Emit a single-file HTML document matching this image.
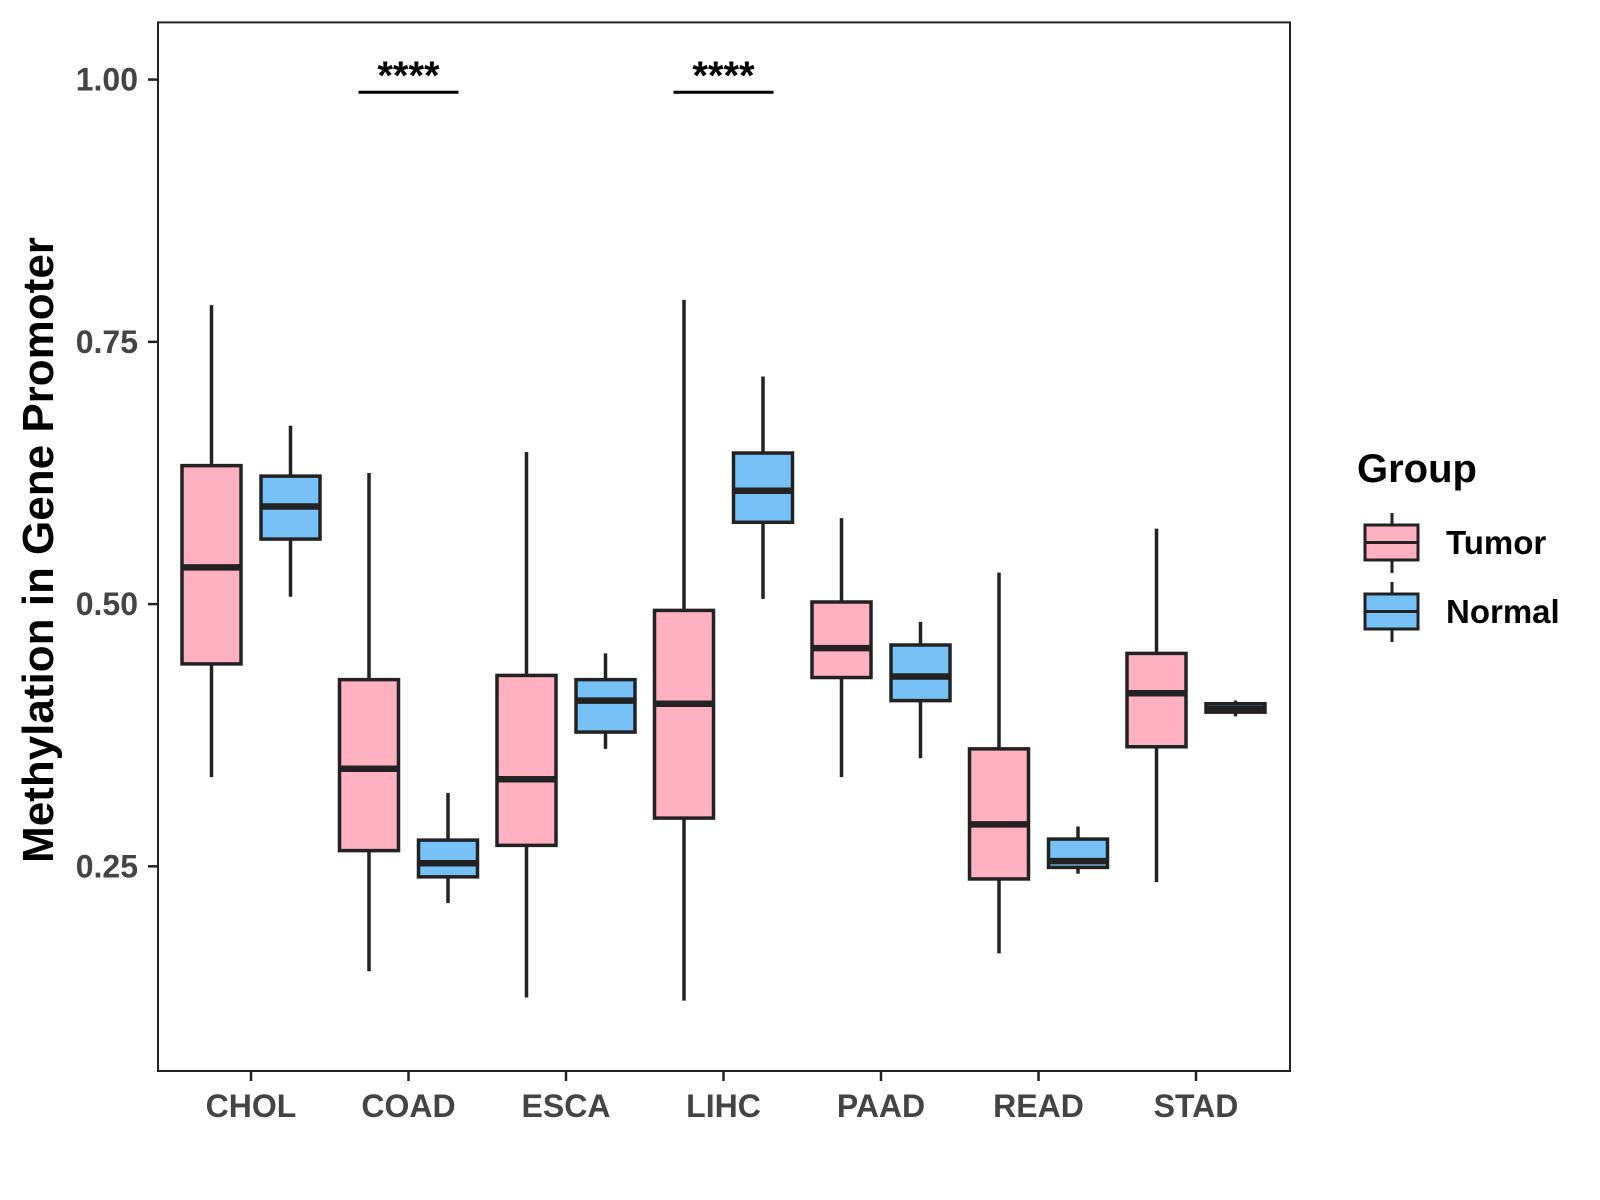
<!DOCTYPE html>
<html><head><meta charset="utf-8"><style>
html,body{margin:0;padding:0;background:#fff;}
svg{display:block;font-family:"Liberation Sans",Arial,sans-serif;font-weight:bold;}
</style></head><body>
<svg id="chart" width="1600" height="1200" viewBox="0 0 1600 1200" xmlns="http://www.w3.org/2000/svg">
<rect x="0" y="0" width="1600" height="1200" fill="#fff"/>
<g id="marks"></g>
<rect x="158" y="22.4" width="1132" height="1048.6" fill="none" stroke="#222" stroke-width="2"/>
<g id="axes"></g>
<text transform="translate(53,550) rotate(-90)" text-anchor="middle" font-size="44" fill="#000">Methylation in Gene Promoter</text>
<g>
<text x="1357" y="482" font-size="40" fill="#000">Group</text>
<g>
<line x1="1392" y1="513" x2="1392" y2="573" stroke="#222" stroke-width="3"/>
<rect x="1365" y="525" width="53" height="35" fill="#FFB0C1" stroke="#222" stroke-width="3"/>
<line x1="1365" y1="542.5" x2="1418" y2="542.5" stroke="#222" stroke-width="3"/>
<text x="1446" y="554" font-size="33" fill="#000">Tumor</text>
</g>
<g>
<line x1="1392" y1="582" x2="1392" y2="642" stroke="#222" stroke-width="3"/>
<rect x="1365" y="594" width="53" height="35" fill="#76C1F7" stroke="#222" stroke-width="3"/>
<line x1="1365" y1="611.5" x2="1418" y2="611.5" stroke="#222" stroke-width="3"/>
<text x="1446" y="623" font-size="33" fill="#000">Normal</text>
</g>
</g>
</svg>
<script>
const categories = ["CHOL","COAD","ESCA","LIHC","PAAD","READ","STAD"];
const tumorMin = [0.335,0.15,0.125,0.122,0.335,0.167,0.235];
const tumorQ1  = [0.443,0.265,0.27,0.296,0.43,0.238,0.364];
const tumorMed = [0.535,0.343,0.333,0.405,0.458,0.29,0.415];
const tumorQ3  = [0.632,0.428,0.432,0.494,0.502,0.362,0.453];
const tumorMax = [0.785,0.625,0.645,0.79,0.582,0.53,0.572];
const normalMin = [0.507,0.215,0.362,0.505,0.353,0.243,0.393];
const normalQ1  = [0.562,0.24,0.378,0.578,0.408,0.249,0.397];
const normalMed = [0.593,0.253,0.408,0.608,0.431,0.255,0.4];
const normalQ3  = [0.622,0.275,0.428,0.644,0.461,0.276,0.405];
const normalMax = [0.67,0.32,0.453,0.717,0.483,0.288,0.408];
const yTicks = [0.25,0.5,0.75,1.0];
const yTickLabels = ["0.25","0.50","0.75","1.00"];
const sigCategories = ["COAD","LIHC"];
const sigLabels = ["****","****"];
const sigLevel = 0.988;

const NS="http://www.w3.org/2000/svg";
function y(v){return 79.6 + (1 - v) * 1049;}
function x(i){return 251 + i * 157.5;}
const marks=document.getElementById('marks'), axes=document.getElementById('axes');
function el(tag,attrs,parent){const e=document.createElementNS(NS,tag);for(const k in attrs)e.setAttribute(k,attrs[k]);parent.appendChild(e);return e;}

function drawBox(cx,mn,q1,md,q3,mx,fill,name){
  const g=el('g',{},marks);
  
  
  el('line',{x1:cx,x2:cx,y1:y(mx),y2:y(mn),stroke:'#222','stroke-width':3.5},g);
  el('rect',{x:cx-29.5,y:y(q3),width:59,height:y(q1)-y(q3),fill:fill,stroke:'#222','stroke-width':3.5},g);
  el('line',{x1:cx-29.5,x2:cx+29.5,y1:y(md),y2:y(md),stroke:'#222','stroke-width':6.5},g);
}
categories.forEach((c,i)=>{
  drawBox(x(i)-39.5,tumorMin[i],tumorQ1[i],tumorMed[i],tumorQ3[i],tumorMax[i],'#FFB0C1','box-tumor-'+c.toLowerCase());
  drawBox(x(i)+39.5,normalMin[i],normalQ1[i],normalMed[i],normalQ3[i],normalMax[i],'#76C1F7','box-normal-'+c.toLowerCase());
  const t=el('line',{x1:x(i),x2:x(i),y1:1071,y2:1081,stroke:'#222','stroke-width':2.5},axes);
  
  
  const l=el('text',{x:x(i),y:1117,'text-anchor':'middle','font-size':32,fill:'#444'},axes);
  l.textContent=c;
  
  
});
yTicks.forEach((v,i)=>{
  const t=el('line',{x1:148,x2:158,y1:y(v),y2:y(v),stroke:'#222','stroke-width':2.5},axes);
  
  
  const l=el('text',{x:138,y:y(v)+11,'text-anchor':'end','font-size':32,fill:'#444'},axes);
  l.textContent=yTickLabels[i];
  
  
});
sigCategories.forEach((c,k)=>{
  const i=categories.indexOf(c);
  const ln=el('line',{x1:x(i)-50,x2:x(i)+50,y1:y(sigLevel),y2:y(sigLevel),stroke:'#000','stroke-width':3},marks);
  
  
  const tx=el('text',{x:x(i),y:y(sigLevel)-3,'text-anchor':'middle','font-size':40,fill:'#000'},marks);
  tx.textContent=sigLabels[k];
  
  
});
</script>
</body></html>
